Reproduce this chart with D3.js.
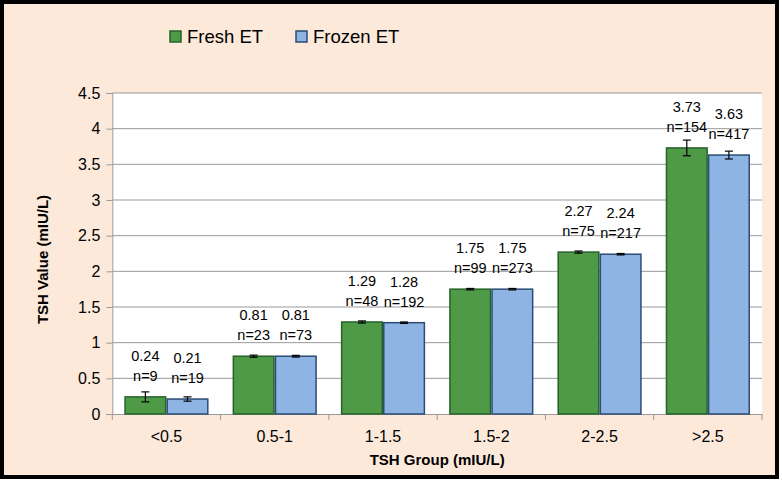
<!DOCTYPE html>
<html><head><meta charset="utf-8">
<script src="https://cdn.jsdelivr.net/npm/d3@7"></script>
<style>
html,body{margin:0;padding:0;background:#fff;}
svg{display:block;font-family:"Liberation Sans",Arial,Helvetica,sans-serif;}
</style></head>
<body><svg id="c" width="782" height="482"></svg>
<script>
const categories = ["<0.5","0.5-1","1-1.5","1.5-2","2-2.5",">2.5"];
const seriesNames = ["Fresh ET","Frozen ET"];
const freshValues = [0.24,0.81,1.29,1.75,2.27,3.73];
const frozenValues = [0.21,0.81,1.28,1.75,2.24,3.63];
const freshErr = [0.07,0.015,0.015,0.01,0.015,0.11];
const frozenErr = [0.03,0.012,0.01,0.01,0.01,0.055];
const freshN = [9,23,48,99,75,154];
const frozenN = [19,73,192,273,217,417];
const yTicks = [0,0.5,1,1.5,2,2.5,3,3.5,4,4.5];
const yTickLabels = ["0","0.5","1","1.5","2","2.5","3","3.5","4","4.5"];

const fills = ["#4f9a47","#8eb4e3"];
const strokes = ["#25622a","#2b4c74"];

const svg = d3.select("#c");
const W=782,H=482;
svg.append("rect").attr("x",2).attr("y",2).attr("width",W-7).attr("height",H-7)
  .attr("fill","#fde9da").attr("stroke","#000").attr("stroke-width",4);

const L=112.3,R=762,T=93,B=414;
const x = d3.scaleBand().domain(categories).range([L,R]).paddingInner(0.222).paddingOuter(0.111);
const xs = d3.scaleBand().domain([0,1]).range([0,x.bandwidth()]);
const y = d3.scaleLinear().domain([0,4.5]).range([B,T]);

svg.append("rect").attr("x",L).attr("y",T).attr("width",R-L).attr("height",B-T).attr("fill","#fff");

// gridlines
svg.append("g").selectAll("line").data(yTicks.slice(1)).join("line")
  .attr("x1",L).attr("x2",R).attr("y1",d=>y(d)).attr("y2",d=>y(d))
  .attr("stroke","#9a9a9a").attr("stroke-width",1);

// y axis
const ya = svg.append("g").attr("transform",`translate(${L},0)`)
  .call(d3.axisLeft(y).tickValues(yTicks).tickFormat((d,i)=>yTickLabels[i]).tickSize(6).tickPadding(6));
ya.select(".domain").attr("stroke","#9a9a9a");
ya.selectAll(".tick line").attr("stroke","#9a9a9a");
ya.selectAll("text").attr("font-size",16).attr("fill","#000").attr("font-family","Liberation Sans, Arial, sans-serif");

// x axis
const xa = svg.append("g").attr("transform",`translate(0,${B})`)
  .call(d3.axisBottom(x).tickSize(0).tickPadding(17));
xa.select(".domain").attr("stroke","#9a9a9a");
xa.selectAll("text").attr("font-size",16).attr("fill","#000").attr("font-family","Liberation Sans, Arial, sans-serif");
const step = x.step();
const bounds = d3.range(categories.length+1).map(i=>L+i*step);
svg.append("g").selectAll("line").data(bounds).join("line")
  .attr("x1",d=>d).attr("x2",d=>d).attr("y1",B).attr("y2",B+6)
  .attr("stroke","#9a9a9a");

const data = categories.map((c,i)=>[
  {c, s:0, v:freshValues[i], e:freshErr[i], n:freshN[i]},
  {c, s:1, v:frozenValues[i], e:frozenErr[i], n:frozenN[i]}
]).flat();

const g = svg.append("g");
g.selectAll("rect").data(data).join("rect")
  .attr("x",d=>x(d.c)+xs(d.s)+0.75).attr("width",xs.bandwidth()-1.5)
  .attr("y",d=>y(d.v)).attr("height",d=>B-y(d.v))
  .attr("fill",d=>fills[d.s]).attr("stroke",d=>strokes[d.s]).attr("stroke-width",1.5);

// error bars
const eb = svg.append("g").attr("stroke","#000").attr("stroke-width",1.2);
data.forEach(d=>{
  const cx = x(d.c)+xs(d.s)+xs.bandwidth()/2;
  eb.append("line").attr("x1",cx).attr("x2",cx).attr("y1",y(d.v+d.e)).attr("y2",y(d.v-d.e));
  eb.append("line").attr("x1",cx-4).attr("x2",cx+4).attr("y1",y(d.v+d.e)).attr("y2",y(d.v+d.e));
  eb.append("line").attr("x1",cx-4).attr("x2",cx+4).attr("y1",y(d.v-d.e)).attr("y2",y(d.v-d.e));
});

// labels
const lab = svg.append("g").attr("font-size",14.5).attr("fill","#000").attr("text-anchor","middle");
data.forEach(d=>{
  const cx = x(d.c)+xs(d.s)+xs.bandwidth()/2;
  lab.append("text").attr("x",cx).attr("y",y(d.v)-16).text("n="+d.n);
  lab.append("text").attr("x",cx).attr("y",y(d.v)-36).text(d.v.toFixed(2));
});

// axis titles
svg.append("text").attr("x",(L+R)/2).attr("y",465).attr("text-anchor","middle")
  .attr("font-size",15).attr("font-weight","bold").text("TSH Group (mIU/L)");
svg.append("text").attr("transform",`translate(48,${(T+B)/2+6}) rotate(-90)`).attr("text-anchor","middle")
  .attr("font-size",15).attr("font-weight","bold").text("TSH Value (mIU/L)");

// legend
const lg = svg.append("g");
const legX = [170,296];
seriesNames.forEach((s,i)=>{
  lg.append("rect").attr("x",legX[i]).attr("y",31).attr("width",11).attr("height",11)
    .attr("fill",fills[i]).attr("stroke",strokes[i]).attr("stroke-width",1.5);
  lg.append("text").attr("x",legX[i]+17).attr("y",43).attr("font-size",18.5).text(s);
});
</script></body></html>
